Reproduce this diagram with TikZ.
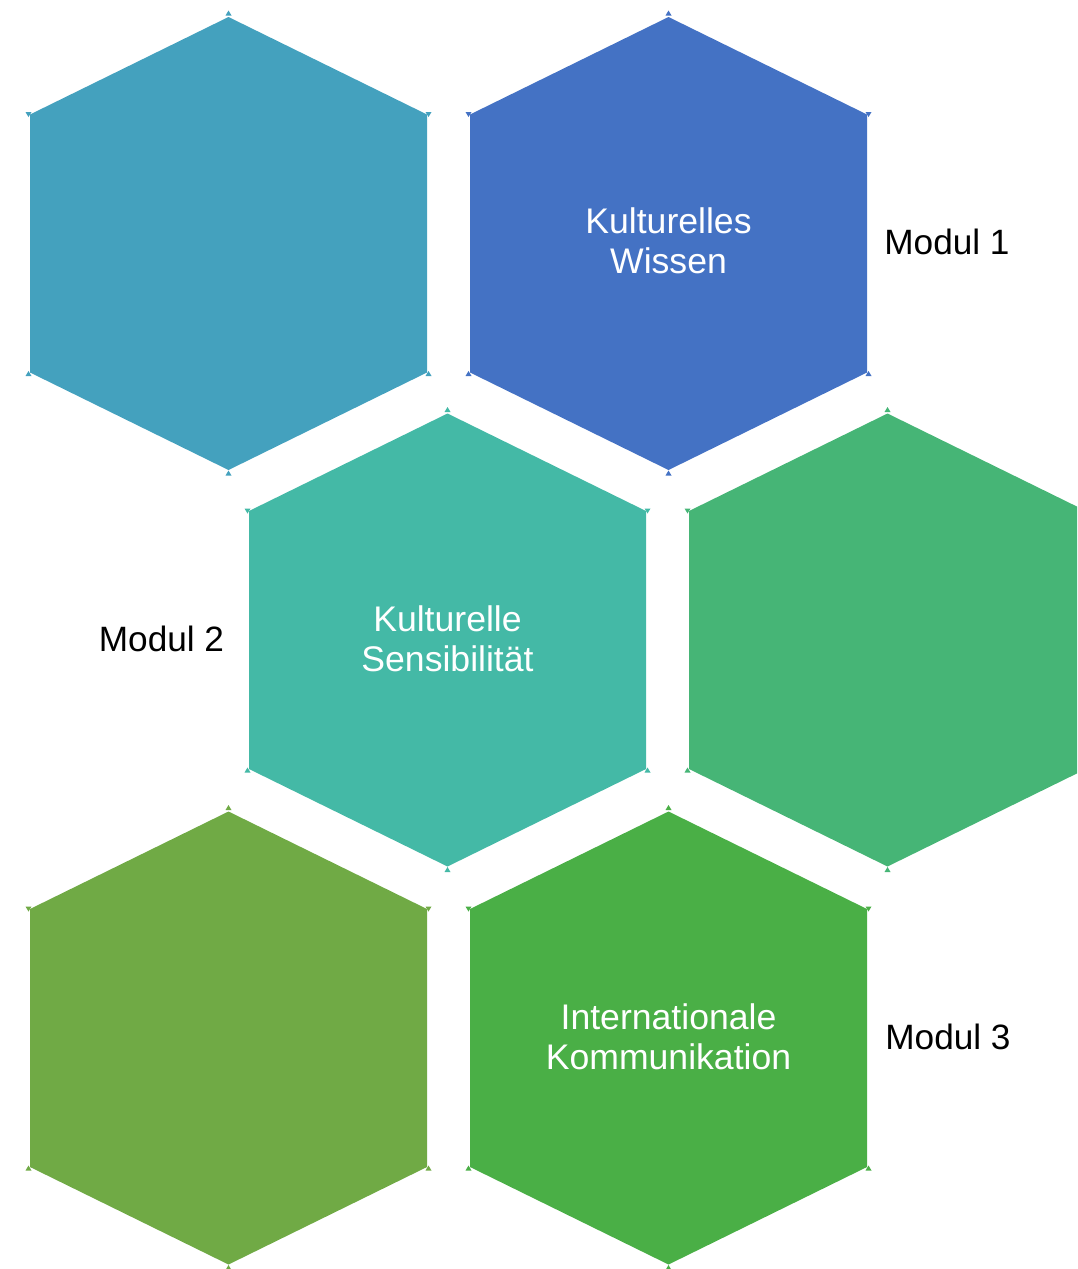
\documentclass[tikz,border=0pt]{standalone}
\usepackage{fontspec}
\setmainfont{Liberation Sans}
\definecolor{hexteal}{HTML}{44A1BE}
\definecolor{hexblue}{HTML}{4472C4}
\definecolor{hexmint}{HTML}{44B9A6}
\definecolor{hexjade}{HTML}{46B576}
\definecolor{hexolive}{HTML}{70AA45}
\definecolor{hexgreen}{HTML}{4AAF46}
\tikzstyle{cell}=[text=white,align=center,inner sep=0pt,font=\fontsize{35.6}{40}\selectfont]
\tikzstyle{tag}=[text=black,inner sep=0pt,font=\fontsize{35.2}{40}\selectfont]
\newcommand\hexcell[3]{%
  \begin{scope}[shift={(#1,#2)}]
    \fill[#3] (0,-226.5) -- (198.5,-129) -- (198.5,129) -- (0,226.5) -- (-198.5,129) -- (-198.5,-129) -- cycle;
    % corner handles
    \fill[#3] (-3,-228) -- (3,-228) -- (0,-233) -- cycle;
    \fill[#3] (197,-131.5) -- (203,-131.5) -- (200,-126.5) -- cycle;
    \fill[#3] (-203,-131.5) -- (-197,-131.5) -- (-200,-126.5) -- cycle;
    \fill[#3] (197,132.5) -- (203,132.5) -- (200,127.5) -- cycle;
    \fill[#3] (-203,132.5) -- (-197,132.5) -- (-200,127.5) -- cycle;
    \fill[#3] (-3,232) -- (3,232) -- (0,227) -- cycle;
  \end{scope}}

\begin{document}
\begin{tikzpicture}[x=1pt,y=-1pt]
      \useasboundingbox (0,0) rectangle (1077,1269);
      \clip (0,0) rectangle (1077,1269);
      \hexcell{228.5}{243.5}{hexteal}
      \hexcell{668.5}{243.5}{hexblue}
      \hexcell{447.5}{640}{hexmint}
      \hexcell{887.5}{640}{hexjade}
      \hexcell{228.5}{1038}{hexolive}
      \hexcell{668.5}{1038}{hexgreen}
      \node[cell] at (668.5,241) (wissen) {Kulturelles\\Wissen};
      \node[cell] at (447.5,639) (sensib) {Kulturelle\\Sensibilität};
      \node[cell] at (668.5,1037) (komm) {Internationale\\Kommunikation};
      \node[tag] at (947,242) (mod1) {Modul 1};
      \node[tag] at (161.5,639) (mod2) {Modul 2};
      \node[tag] at (948,1037) (mod3) {Modul 3};
    \end{tikzpicture}
\end{document}
